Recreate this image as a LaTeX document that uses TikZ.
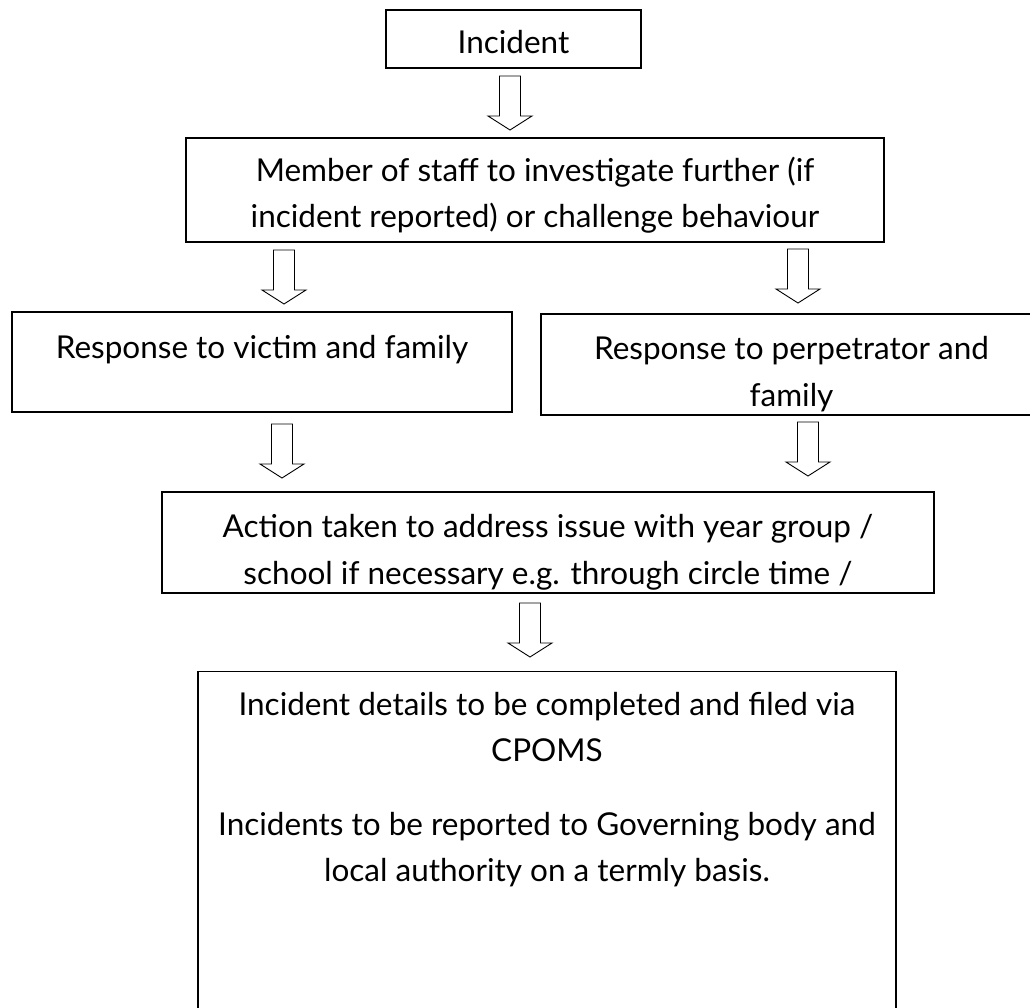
\documentclass[tikz,border=0pt]{standalone}
\usepackage{fontspec}
\setmainfont{Lato}

% hollow block arrow pointing down, #1 = middle of its top edge
\newcommand{\blockdown}[1]{%
  \draw[blockarrow] (#1) ++(-10.5,0) -- ++(21,0) -- ++(0,40) -- ++(11.5,0)
    -- ++(-22,14) -- ++(-22,-14) -- ++(11.5,0) -- cycle;}

\begin{document}
\begin{tikzpicture}[x=1pt, y=-1pt,
    box/.style={draw, line width=1.3pt, inner sep=0pt, align=center,
      text depth=0pt, font=\fontsize{31.5}{46.5}\selectfont},
    blockarrow/.style={draw, line width=0.9pt, line join=miter}]

\useasboundingbox (0,0) rectangle (1030,1008);

%------------------ BOXES ------------------%
\node[box, minimum width=255, minimum height=58, text height=30pt]
  (incident) at (513.5,39) {Incident};

\node[box, minimum width=698, minimum height=104, text height=76pt]
  (staff) at (535,190)
  {Member of staff to investigate further (if\\incident reported) or challenge behaviour};

\node[box, minimum width=500, minimum height=100, text height=22pt, text depth=30pt]
  (victim) at (262,362) {Response to victim and family};

\node[box, minimum width=501, minimum height=101, text height=83pt]
  (perpetrator) at (791.5,364.5) {Response to perpetrator and\\family};

\node[box, minimum width=772, minimum height=101, text height=83pt]
  (action) at (548,542.5)
  {Action taken to address issue with year group /\\school if necessary e.g. through circle time /};

\node[box, anchor=north, minimum width=698, text height=210pt, text depth=150pt]
  (record) at (547,671)
  {Incident details to be completed and filed via\\CPOMS\\[27pt]Incidents to be reported to Governing body and\\local authority on a termly basis.};

%------------------ ARROWS ------------------%
\coordinate (A1) at (510,76);
\coordinate (A2) at (284,250);
\coordinate (A3) at (798,249);
\coordinate (A4) at (282,424);
\coordinate (A5) at (808,422);
\coordinate (A6) at (530,603);

\blockdown{A1}
\blockdown{A2}
\blockdown{A3}
\blockdown{A4}
\blockdown{A5}
\blockdown{A6}

\end{tikzpicture}
\end{document}
